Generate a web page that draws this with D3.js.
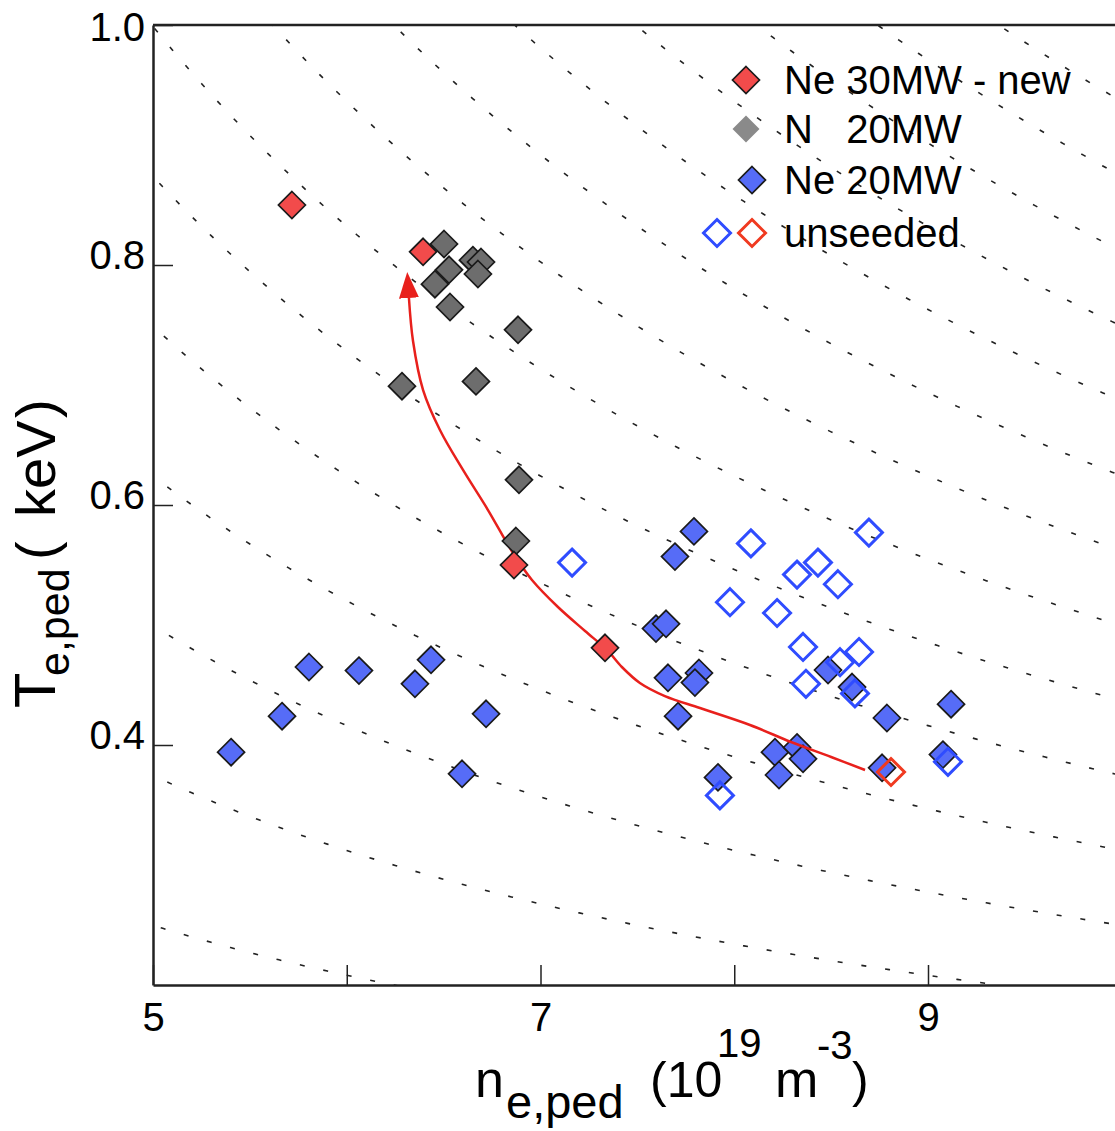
<!DOCTYPE html>
<html>
<head>
<meta charset="utf-8">
<script src="https://cdn.jsdelivr.net/npm/d3@7"></script>
<style>
  body { margin: 0; background: #fff; }
  svg { display: block; font-family: "Liberation Sans", Arial, Helvetica, sans-serif; }
</style>
</head>
<body>
<svg id="chart" width="1115" height="1131"></svg>
<script>
// Ne 30MW - new (filled red)
var ne30New_n = [5.717, 6.394, 6.863, 7.333];
var ne30New_T = [0.850, 0.811, 0.550, 0.481];

// N 20MW (grey)
var n20_n = [6.502, 6.651, 6.693, 6.528, 6.677, 6.455, 6.533, 6.884, 6.285, 6.667, 6.889, 6.873];
var n20_T = [0.8175, 0.804, 0.8025, 0.796, 0.7925, 0.784, 0.765, 0.746, 0.699, 0.703, 0.621, 0.570];

// Ne 20MW (filled blue)
var ne20_n = [5.403, 5.666, 5.805, 6.063, 6.352, 6.435, 6.719, 6.595, 7.792, 7.694, 7.596, 7.648, 7.658, 7.818,
              7.797, 7.710, 7.916, 8.210, 8.324, 8.355, 8.231, 8.484, 8.608, 8.788, 9.119, 9.077, 8.763];
var ne20_T = [0.394, 0.424, 0.465, 0.462, 0.451, 0.471, 0.426, 0.376, 0.578, 0.557, 0.497, 0.501, 0.456, 0.460,
              0.452, 0.424, 0.373, 0.394, 0.398, 0.3885, 0.375, 0.4625, 0.4483, 0.4225, 0.434, 0.392, 0.381];

// unseeded (open blue / open red)
var unseededBlue_n = [7.163, 8.086, 8.695, 8.432, 8.324, 8.535, 7.978, 8.221, 8.355, 8.644, 8.546, 8.370, 8.623, 7.926, 9.103];
var unseededBlue_T = [0.552, 0.568, 0.577, 0.552, 0.542, 0.534, 0.519, 0.510, 0.4817, 0.4775, 0.469, 0.451, 0.443, 0.358, 0.386];
var unseededRed_n = [8.809];
var unseededRed_T = [0.3775];

// red trend arrow (from unseeded point up to the arrow head base)
var arrow_n = [8.675, 8.500, 8.293, 8.081, 7.823, 7.642, 7.513, 7.420, 7.343, 7.230, 7.090, 6.956, 6.858, 6.729, 6.600, 6.481, 6.394, 6.342, 6.321];
var arrow_T = [0.3792, 0.3900, 0.4025, 0.4167, 0.4308, 0.4408, 0.4517, 0.4650, 0.4792, 0.4950, 0.5150, 0.5375, 0.5600, 0.5958, 0.6292, 0.6625, 0.6958, 0.7367, 0.7725];

// isobars, kPa  (p = 1.602 * n[1e19] * T[keV])
var isobarKPa = [2, 3, 4, 5, 6, 7, 8, 9, 10, 11, 12, 13, 14, 15];

var xTicks = [5, 6, 7, 8, 9, 10];
var xLabels = {5: "5", 7: "7", 9: "9"};
var yTicks = [0.4, 0.6, 0.8, 1.0];

var legendItems = ["Ne 30MW - new", "N   20MW", "Ne 20MW", "unseeded"];

function zip(a, b) { return a.map(function(v, i) { return [v, b[i]]; }); }

var svg = d3.select("#chart");
var x = d3.scaleLinear().domain([5, 10]).range([153, 1121.75]);
var y = d3.scaleLinear().domain([0.2, 1.0]).range([985, 25]);

svg.append("defs").append("clipPath").attr("id", "plotClip")
  .append("rect").attr("x", x(5)).attr("y", y(1.0)).attr("width", x(10) - x(5)).attr("height", y(0.2) - y(1.0));

svg.select("defs").append("marker")
    .attr("id", "arrowHead")
    .attr("markerUnits", "userSpaceOnUse")
    .attr("viewBox", "0 0 13 10")
    .attr("refX", 0).attr("refY", 5)
    .attr("markerWidth", 26).attr("markerHeight", 20)
    .attr("orient", "auto")
  .append("path")
    .attr("d", "M0,0 L13,5 L0,10 Z")
    .attr("fill", "#e8201c");

var plot = svg.append("g").attr("clip-path", "url(#plotClip)");

// dotted isobars
var isoLine = d3.line().x(function(d) { return x(d[0]); }).y(function(d) { return y(d[1]); });
var nGrid = d3.range(4.0, 10.51, 0.05);
plot.selectAll(".iso")
  .data(isobarKPa)
  .enter().append("path")
    .attr("fill", "none")
    .attr("stroke", "#222")
    .attr("stroke-width", 1.6)
    .attr("stroke-dasharray", "5,19")
    .attr("d", function(p) {
      return isoLine(nGrid.map(function(n) { return [n, p / (1.602 * n)]; }));
    });

var r = 13.5;
var diamond = "M0," + (-r) + "L" + r + ",0L0," + r + "L" + (-r) + ",0Z";

function drawPoints(data, fill, stroke, sw) {
  plot.append("g").selectAll("path")
    .data(data)
    .enter().append("path")
      .attr("d", diamond)
      .attr("transform", function(d) { return "translate(" + x(d[0]) + "," + y(d[1]) + ")"; })
      .attr("fill", fill)
      .attr("stroke", stroke)
      .attr("stroke-width", sw);
}

drawPoints(zip(ne20_n, ne20_T), "#566cf7", "#1a1a1a", 1.7);
drawPoints(zip(unseededBlue_n, unseededBlue_T), "none", "#2f4cff", 3);

// arrow
var arrowLine = d3.line()
  .x(function(d) { return x(d[0]); })
  .y(function(d) { return y(d[1]); })
  .curve(d3.curveCatmullRom.alpha(0.5));
plot.append("path")
  .datum(zip(arrow_n, arrow_T))
  .attr("fill", "none")
  .attr("stroke", "#e8201c")
  .attr("stroke-width", 2.5)
  .attr("marker-end", "url(#arrowHead)")
  .attr("d", arrowLine);

drawPoints(zip(n20_n, n20_T), "#6d6d6d", "#1a1a1a", 1.7);
drawPoints(zip(ne30New_n, ne30New_T), "#f24b4b", "#1a1a1a", 1.7);
drawPoints(zip(unseededRed_n, unseededRed_T), "none", "#f03a20", 3);

// axes
var axisColor = "#222";
var gx = svg.append("g")
  .attr("transform", "translate(0," + y(0.2) + ")")
  .call(d3.axisBottom(x).tickValues(xTicks).tickSize(-20).tickSizeOuter(0)
        .tickPadding(0).tickFormat(function(d) { return xLabels[d] || ""; }));
gx.select(".domain").attr("stroke", axisColor).attr("stroke-width", 2.5);
gx.selectAll(".tick line").attr("stroke", axisColor).attr("stroke-width", 1.5);
gx.selectAll(".tick text")
  .attr("y", 46).attr("dy", null)
  .attr("font-size", 40).attr("fill", "#000")
  .attr("font-family", "'Liberation Sans', Arial, sans-serif");

var gy = svg.append("g")
  .attr("transform", "translate(" + x(5) + ",0)")
  .call(d3.axisLeft(y).tickValues(yTicks).tickSize(-20).tickSizeOuter(0)
        .tickPadding(8).tickFormat(d3.format(".1f")));
gy.select(".domain").attr("stroke", axisColor).attr("stroke-width", 2.5);
gy.selectAll(".tick line").attr("stroke", axisColor).attr("stroke-width", 1.5);
gy.selectAll(".tick text")
  .attr("dy", function(d) { return d === 1.0 ? 15 : 3; })
  .attr("font-size", 40).attr("fill", "#000")
  .attr("font-family", "'Liberation Sans', Arial, sans-serif");

// top frame line
svg.append("line")
  .attr("x1", x(5)).attr("x2", x(10))
  .attr("y1", y(1.0)).attr("y2", y(1.0))
  .attr("stroke", axisColor).attr("stroke-width", 2.5);

// x label
var xl = svg.append("text").attr("fill", "#000");
xl.append("tspan").attr("x", 475).attr("y", 1097).attr("font-size", 52).text("n");
xl.append("tspan").attr("x", 506).attr("y", 1118).attr("font-size", 47).text("e,ped");
xl.append("tspan").attr("x", 650).attr("y", 1097).attr("font-size", 50).text("(10");
xl.append("tspan").attr("x", 717).attr("y", 1057).attr("font-size", 40).text("19");
xl.append("tspan").attr("x", 775).attr("y", 1097).attr("font-size", 52).text("m");
xl.append("tspan").attr("x", 817).attr("y", 1059).attr("font-size", 40).text("-3");
xl.append("tspan").attr("x", 852).attr("y", 1097).attr("font-size", 50).text(")");

// y label
var yl = svg.append("text").attr("fill", "#000").attr("transform", "rotate(-90)");
yl.append("tspan").attr("x", -708).attr("y", 55).attr("font-size", 58).text("T");
yl.append("tspan").attr("x", -676).attr("y", 69).attr("font-size", 43).text("e,ped");
yl.append("tspan").attr("x", -560).attr("y", 55).attr("font-size", 56).text("(");
yl.append("tspan").attr("x", -517).attr("y", 55).attr("font-size", 56).text("keV");
yl.append("tspan").attr("x", -418).attr("y", 55).attr("font-size", 56).text(")");

// legend
var legend = svg.append("g");
var lgY = [80, 129, 180, 233];
legend.selectAll("text")
  .data(legendItems)
  .enter().append("text")
    .attr("x", 784)
    .attr("y", function(d, i) { return lgY[i] + 14; })
    .attr("font-size", 40)
    .attr("fill", "#000")
    .style("white-space", "pre")
    .text(function(d) { return d; });

function legendMark(cx, cy, fill, stroke, sw) {
  legend.append("path")
    .attr("d", diamond)
    .attr("transform", "translate(" + cx + "," + cy + ")")
    .attr("fill", fill).attr("stroke", stroke).attr("stroke-width", sw);
}
legendMark(746, lgY[0], "#f24b4b", "#1a1a1a", 1.7);
legendMark(746, lgY[1], "#8a8a8a", "none", 0);
legendMark(752, lgY[2], "#566cf7", "#1a1a1a", 1.7);
legendMark(717, lgY[3], "none", "#2f4cff", 3);
legendMark(752, lgY[3], "none", "#f03a20", 3);
</script>
</body>
</html>
